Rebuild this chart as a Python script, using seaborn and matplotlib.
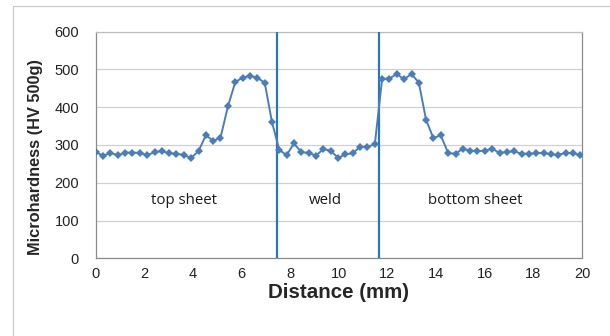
import numpy as np
import pandas as pd
import matplotlib
matplotlib.use("Agg")
import matplotlib.pyplot as plt
from matplotlib.patches import Rectangle
import seaborn as sns

# Microhardness traverse across the joint
distance_mm = [0.00, 0.30, 0.60, 0.91, 1.21, 1.51, 1.81, 2.11, 2.42, 2.72,
               3.02, 3.32, 3.62, 3.93, 4.23, 4.53, 4.83, 5.13, 5.44, 5.74,
               6.04, 6.34, 6.64, 6.95, 7.25, 7.55, 7.85, 8.15, 8.46, 8.76,
               9.06, 9.36, 9.66, 9.97, 10.27, 10.57, 10.87, 11.17, 11.48, 11.78,
               12.08, 12.38, 12.68, 12.99, 13.29, 13.59, 13.89, 14.19, 14.50, 14.80,
               15.10, 15.40, 15.70, 16.01, 16.31, 16.61, 16.91, 17.21, 17.52, 17.82,
               18.12, 18.42, 18.72, 19.03, 19.33, 19.63, 19.93]
hardness_hv = [282, 271, 279, 273, 280, 280, 279, 273, 281, 284,
               278, 277, 273, 266, 284, 326, 311, 319, 403, 467,
               478, 483, 478, 465, 360, 287, 273, 304, 281, 279,
               272, 289, 285, 266, 275, 278, 295, 295, 302, 475,
               476, 488, 474, 488, 465, 366, 318, 326, 278, 277,
               290, 285, 284, 285, 290, 279, 282, 283, 277, 277,
               278, 279, 275, 274, 279, 278, 273]

# Zone boundaries and zone captions
boundaries_mm = [7.45, 11.65]
zone_names = ["top sheet", "weld", "bottom sheet"]
zone_x = [3.64, 9.43, 15.63]
zone_y = [152, 152, 152]

x_ticks = list(range(0, 21, 2))
y_ticks = list(range(0, 601, 100))

sns.set_theme(style="white")
plt.rcParams["font.family"] = ["Liberation Sans", "DejaVu Sans"]

df = pd.DataFrame({"Distance": distance_mm, "Hardness": hardness_hv})

fig = plt.figure(figsize=(6.10, 3.36), dpi=100)
ax = fig.add_axes([0.157, 0.2313, 0.797, 0.6744])

# outer chart frame
fig.add_artist(Rectangle((0.0205, -0.2), 1.3, 0.2 + 0.982, transform=fig.transFigure,
                         fill=False, edgecolor="#c9c9c9", linewidth=0.9))

ax.yaxis.grid(True, color="#d0d0d0", linewidth=0.9)
ax.set_axisbelow(True)

for b in boundaries_mm:
    ax.axvline(b, color="#2a77b3", linewidth=1.6, zorder=3)

sns.lineplot(data=df, x="Distance", y="Hardness", ax=ax, color="#4a7ebb",
             linewidth=1.4, marker="D", markersize=3.8, markeredgewidth=0,
             zorder=4)

for name, zx, zy in zip(zone_names, zone_x, zone_y):
    ax.text(zx, zy, name, ha="center", va="center", fontsize=10.8,
            family=["Open Sans", "DejaVu Sans"], color="#1a1a1a")

ax.set_xlim(0, 20)
ax.set_ylim(0, 600)
ax.set_xticks(x_ticks)
ax.set_yticks(y_ticks)
ax.tick_params(axis="both", labelsize=10.5, colors="#222222", length=3,
               width=0.8, direction="out", color="#888888")
ax.tick_params(axis="y", pad=9)
ax.tick_params(axis="x", pad=3)

for side in ["left", "bottom", "right", "top"]:
    ax.spines[side].set_visible(True)
    ax.spines[side].set_color("#8c8c8c")
    ax.spines[side].set_linewidth(0.9)
ax.spines["top"].set_color("#bdbdbd")

ax.set_xlabel("Distance (mm)", fontsize=14.8, fontweight="bold", va="center")
ax.xaxis.set_label_coords(0.5, -0.149)
ax.set_ylabel("Microhardness (HV 500g)", fontsize=11.8, fontweight="bold",
              va="center")
ax.yaxis.set_label_coords(-0.124, 0.449)

fig.savefig("out.png", dpi=100)
